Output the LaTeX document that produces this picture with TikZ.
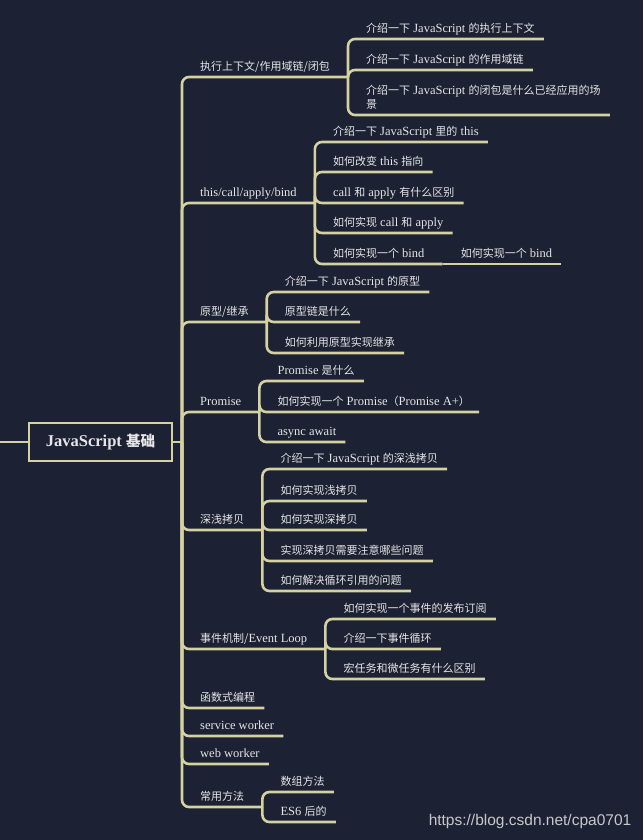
\documentclass[tikz,border=0pt]{standalone}
\usepackage{fontspec}
\setmainfont{Liberation Serif}
\newfontfamily\cjk[Scale=0.88]{Noto Sans CJK SC}
\newfontfamily\urlfont{Liberation Sans}
\newcommand\zh[1]{{\cjk #1}}
\definecolor{mapbg}{HTML}{1C2133}
\definecolor{mapline}{HTML}{D4D2A0}
\definecolor{maptext}{HTML}{E6E6E6}

\begin{document}
\begin{tikzpicture}[x=1pt,y=-1pt,
  topic/.style={anchor=south west,inner xsep=9pt,inner ysep=4pt,text height=8pt,text depth=2pt,
    text=maptext,font=\fontsize{12.5}{14}\selectfont},
  branch/.style={draw=mapline,line width=2.6pt,rounded corners=7pt},
  rootbox/.style={draw=mapline,line width=2.4pt,fill=mapbg,text=maptext,minimum width=143pt,
    minimum height=38pt,font=\fontsize{16.5}{19}\selectfont\bfseries}]
\fill[mapbg] (0,0) rectangle (643,840);
\useasboundingbox (0,0) rectangle (643,840);

\coordinate (lft) at (0,442);
\coordinate (rt) at (182,442);
\node[rootbox] (root) at (100.5,442) {JavaScript \zh{基础}};
\draw[branch] (lft) -- (root);
\draw[branch] (root) -- (rt);

\node[topic] (b1) at (191,77) {\zh{执行上下文/作用域链/闭包}};
\draw[branch] (rt) |- ([xshift=9pt]b1.south east) coordinate (b1e);
\node[topic] (c11) at ([xshift=9pt]b1e |- 0,39) {\zh{介绍一下} JavaScript \zh{的执行上下文}};
\node[topic] (c12) at ([xshift=9pt]b1e |- 0,70) {\zh{介绍一下} JavaScript \zh{的作用域链}};
\node[topic,align=left,text height=22pt] (c13) at ([xshift=9pt]b1e |- 0,115)
  {\zh{介绍一下} JavaScript \zh{的闭包是什么已经应用的场}\\\zh{景}};
\draw[branch] (b1e) |- (c11.south east);
\draw[branch] (b1e) |- (c12.south east);
\draw[branch] (b1e) |- (c13.south east);

\node[topic] (b2) at (191,203) {this/call/apply/bind};
\draw[branch] (rt) |- ([xshift=9pt]b2.south east) coordinate (b2e);
\node[topic] (c21) at ([xshift=9pt]b2e |- 0,142) {\zh{介绍一下} JavaScript \zh{里的} this};
\node[topic] (c22) at ([xshift=9pt]b2e |- 0,172) {\zh{如何改变} this \zh{指向}};
\node[topic] (c23) at ([xshift=9pt]b2e |- 0,203) {call \zh{和} apply \zh{有什么区别}};
\node[topic] (c24) at ([xshift=9pt]b2e |- 0,233) {\zh{如何实现} call \zh{和} apply};
\node[topic] (c25) at ([xshift=9pt]b2e |- 0,264) {\zh{如何实现一个} bind};
\draw[branch] (b2e) |- (c21.south east);
\draw[branch] (b2e) |- (c22.south east);
\draw[branch] (b2e) |- (c23.south east);
\draw[branch] (b2e) |- (c24.south east);
\draw[branch] (b2e) |- ([xshift=9pt]c25.south east) coordinate (c25e);
\node[topic] (c251) at ([xshift=9pt]c25e |- 0,264) {\zh{如何实现一个} bind};
\draw[branch] (c25e) -- (c251.south east);

\node[topic] (b3) at (191,322) {\zh{原型/继承}};
\draw[branch] (rt) |- ([xshift=9pt]b3.south east) coordinate (b3e);
\node[topic] (c31) at ([xshift=9pt]b3e |- 0,292) {\zh{介绍一下} JavaScript \zh{的原型}};
\node[topic] (c32) at ([xshift=9pt]b3e |- 0,322) {\zh{原型链是什么}};
\node[topic] (c33) at ([xshift=9pt]b3e |- 0,353) {\zh{如何利用原型实现继承}};
\draw[branch] (b3e) |- (c31.south east);
\draw[branch] (b3e) |- (c32.south east);
\draw[branch] (b3e) |- (c33.south east);

\node[topic] (b4) at (191,412) {Promise};
\draw[branch] (rt) |- ([xshift=9pt]b4.south east) coordinate (b4e);
\node[topic] (c41) at ([xshift=9pt]b4e |- 0,381) {Promise \zh{是什么}};
\node[topic] (c42) at ([xshift=9pt]b4e |- 0,412) {\zh{如何实现一个} Promise\zh{（}Promise A+\zh{）}};
\node[topic] (c43) at ([xshift=9pt]b4e |- 0,442) {async await};
\draw[branch] (b4e) |- (c41.south east);
\draw[branch] (b4e) |- (c42.south east);
\draw[branch] (b4e) |- (c43.south east);

\node[topic] (b5) at (191,530) {\zh{深浅拷贝}};
\draw[branch] (rt) |- ([xshift=9pt]b5.south east) coordinate (b5e);
\node[topic] (c51) at ([xshift=9pt]b5e |- 0,469) {\zh{介绍一下} JavaScript \zh{的深浅拷贝}};
\node[topic] (c52) at ([xshift=9pt]b5e |- 0,501) {\zh{如何实现浅拷贝}};
\node[topic] (c53) at ([xshift=9pt]b5e |- 0,530) {\zh{如何实现深拷贝}};
\node[topic] (c54) at ([xshift=9pt]b5e |- 0,561) {\zh{实现深拷贝需要注意哪些问题}};
\node[topic] (c55) at ([xshift=9pt]b5e |- 0,591) {\zh{如何解决循环引用的问题}};
\draw[branch] (b5e) |- (c51.south east);
\draw[branch] (b5e) |- (c52.south east);
\draw[branch] (b5e) |- (c53.south east);
\draw[branch] (b5e) |- (c54.south east);
\draw[branch] (b5e) |- (c55.south east);

\node[topic] (b6) at (191,649) {\zh{事件机制/}Event Loop};
\draw[branch] (rt) |- ([xshift=9pt]b6.south east) coordinate (b6e);
\node[topic] (c61) at ([xshift=9pt]b6e |- 0,619) {\zh{如何实现一个事件的发布订阅}};
\node[topic] (c62) at ([xshift=9pt]b6e |- 0,649) {\zh{介绍一下事件循环}};
\node[topic] (c63) at ([xshift=9pt]b6e |- 0,679) {\zh{宏任务和微任务有什么区别}};
\draw[branch] (b6e) |- (c61.south east);
\draw[branch] (b6e) |- (c62.south east);
\draw[branch] (b6e) |- (c63.south east);

\node[topic] (b7) at (191,708) {\zh{函数式编程}};
\node[topic] (b8) at (191,736) {service worker};
\node[topic] (b9) at (191,764) {web worker};
\draw[branch] (rt) |- (b7.south east);
\draw[branch] (rt) |- (b8.south east);
\draw[branch] (rt) |- (b9.south east);

\node[topic] (b10) at (191,807) {\zh{常用方法}};
\draw[branch] (rt) |- ([xshift=9pt]b10.south east) coordinate (b10e);
\node[topic] (c101) at ([xshift=9pt]b10e |- 0,792) {\zh{数组方法}};
\node[topic] (c102) at ([xshift=9pt]b10e |- 0,822) {ES6 \zh{后的}};
\draw[branch] (b10e) |- (c101.south east);
\draw[branch] (b10e) |- (c102.south east);

\node[text=maptext!85!mapbg,font=\urlfont\fontsize{15.5}{18}\selectfont] (wm) at (530,821)
  {https://blog.csdn.net/cpa0701};
\end{tikzpicture}
\end{document}
